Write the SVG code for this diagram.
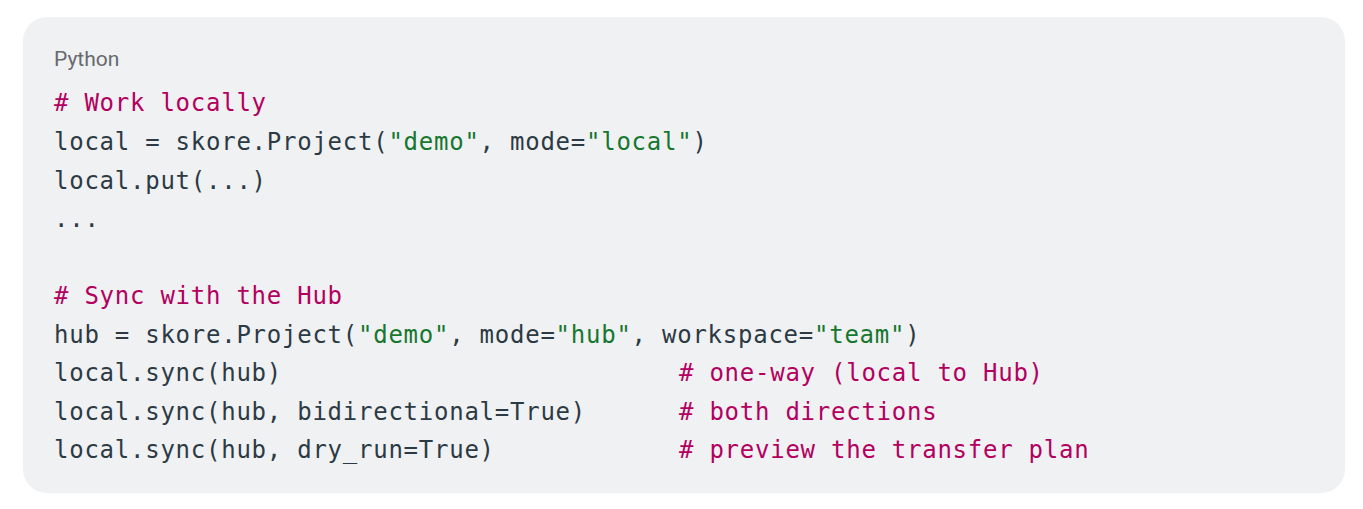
<svg xmlns="http://www.w3.org/2000/svg" width="1363" height="509" viewBox="0 0 1363 509">
<style>
.c{font-family:"DejaVu Sans Mono","Liberation Mono",monospace;font-size:24px;letter-spacing:0.75px;fill:#2c3a44;white-space:pre}
.k{fill:#b3005f}
.s{fill:#16772e}
</style>
<rect width="1363" height="509" fill="#ffffff"/>
<g id="codeblock">
<rect x="23" y="17" width="1322" height="476" rx="24" fill="#f0f1f3"/>
<text x="54" y="66" font-family="Roboto,'Liberation Sans',sans-serif" font-size="21" fill="#666a6e">Python</text>
<text class="c" xml:space="preserve" x="54" y="111"><tspan class="k"># Work locally</tspan></text>
<text class="c" xml:space="preserve" x="54" y="150">local = skore.Project(<tspan class="s">"demo"</tspan>, mode=<tspan class="s">"local"</tspan>)</text>
<text class="c" xml:space="preserve" x="54" y="189">local.put(...)</text>
<text class="c" xml:space="preserve" x="54" y="227">...</text>
<text class="c" xml:space="preserve" x="54" y="304"><tspan class="k"># Sync with the Hub</tspan></text>
<text class="c" xml:space="preserve" x="54" y="343">hub = skore.Project(<tspan class="s">"demo"</tspan>, mode=<tspan class="s">"hub"</tspan>, workspace=<tspan class="s">"team"</tspan>)</text>
<text class="c" xml:space="preserve" x="54" y="381">local.sync(hub)</text>
<text class="c k" xml:space="preserve" x="679" y="381"># one-way (local to Hub)</text>
<text class="c" xml:space="preserve" x="54" y="420">local.sync(hub, bidirectional=True)</text>
<text class="c k" xml:space="preserve" x="679" y="420"># both directions</text>
<text class="c" xml:space="preserve" x="54" y="458">local.sync(hub, dry_run=True)</text>
<text class="c k" xml:space="preserve" x="679" y="458"># preview the transfer plan</text>
</g>
</svg>
